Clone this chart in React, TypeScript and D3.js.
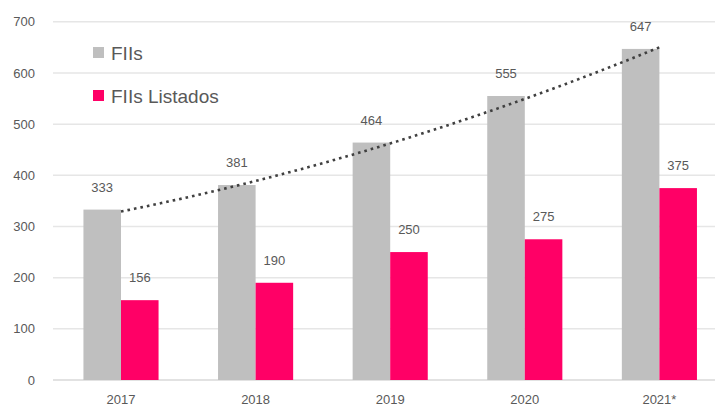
import React from "react";
import * as d3 from "d3";

const categories = ["2017", "2018", "2019", "2020", "2021*"];
const fiis = [333, 381, 464, 555, 647];
const fiisListados = [156, 190, 250, 275, 375];
const yTicks = [0, 100, 200, 300, 400, 500, 600, 700];
const seriesNames = ["FIIs", "FIIs Listados"];

const W = 715;
const H = 408;
const GREY = "#bfbfbf";
const PINK = "#ff0066";
const TEXT = "#595959";
const FONT = "'Liberation Sans', Arial, sans-serif";

function quadFit(ys: number[]) {
  // least squares fit y = a + b x + c x^2 over x = 0..n-1
  const n = ys.length;
  const xs = ys.map((_, i) => i);
  const S = (f: (x: number, y: number) => number) =>
    xs.reduce((s, x, i) => s + f(x, ys[i]), 0);
  const s0 = n, s1 = S((x) => x), s2 = S((x) => x * x), s3 = S((x) => x ** 3), s4 = S((x) => x ** 4);
  const t0 = S((x, y) => y), t1 = S((x, y) => x * y), t2 = S((x, y) => x * x * y);
  const M = [
    [s0, s1, s2, t0],
    [s1, s2, s3, t1],
    [s2, s3, s4, t2],
  ];
  for (let i = 0; i < 3; i++) {
    for (let k = i + 1; k < 3; k++) {
      const f = M[k][i] / M[i][i];
      for (let j = i; j < 4; j++) M[k][j] -= f * M[i][j];
    }
  }
  const r = [0, 0, 0];
  for (let i = 2; i >= 0; i--) {
    let s = M[i][3];
    for (let j = i + 1; j < 3; j++) s -= M[i][j] * r[j];
    r[i] = s / M[i][i];
  }
  return (x: number) => r[0] + r[1] * x + r[2] * x * x;
}

export default function App() {
  const y = d3.scaleLinear().domain([0, 700]).range([380, 21.8]);
  const x = d3.scaleBand<string>().domain(categories).range([53.7, 726.7]).padding(0);
  const barW = x.bandwidth() * 0.279;
  const cx = (c: string) => (x(c) as number) + x.bandwidth() / 2;

  const fit = quadFit(fiis);
  const idx = d3.scaleLinear().domain([0, categories.length - 1]).range([cx(categories[0]), cx(categories[categories.length - 1])]);
  const samples = d3.range(0, categories.length - 1 + 1e-9, 0.05);
  const trendPath = d3
    .line<number>()
    .x((t) => idx(t))
    .y((t) => y(fit(t)))(samples);

  return (
    <svg width={W} height={H} style={{ position: "absolute", left: 0, top: 0, background: "#fff" }}>
      {yTicks.map((t) => (
        <g key={t}>
          <line x1={53} x2={W} y1={y(t)} y2={y(t)} stroke={t === 0 ? "#d9d9d9" : "#e6e6e6"} strokeWidth={1.5} />
          <text x={35} y={y(t)} dy="0.35em" textAnchor="end" fontFamily={FONT} fontSize={13} fill={TEXT}>
            {t}
          </text>
        </g>
      ))}
      {categories.map((c, i) => (
        <g key={c}>
          <rect x={cx(c) - barW} y={y(fiis[i])} width={barW} height={y(0) - y(fiis[i])} fill={GREY} />
          <rect x={cx(c)} y={y(fiisListados[i])} width={barW} height={y(0) - y(fiisListados[i])} fill={PINK} />
          <text x={cx(c) - barW / 2} y={y(fiis[i]) - 22.5} dy="0.35em" textAnchor="middle" fontFamily={FONT} fontSize={13} fill={TEXT}>
            {fiis[i]}
          </text>
          <text x={cx(c) + barW / 2} y={y(fiisListados[i]) - 22.5} dy="0.35em" textAnchor="middle" fontFamily={FONT} fontSize={13} fill={TEXT}>
            {fiisListados[i]}
          </text>
          <text x={cx(c)} y={399.5} dy="0.35em" textAnchor="middle" fontFamily={FONT} fontSize={13} fill={TEXT}>
            {c}
          </text>
        </g>
      ))}
      <path d={trendPath || ""} fill="none" stroke="#404040" strokeWidth={2.6} strokeDasharray="2.6 4" />
      {seriesNames.map((s, i) => (
        <g key={s} transform={`translate(93, ${47 + i * 43})`}>
          <rect x={0} y={0} width={11} height={11} fill={i === 0 ? GREY : PINK} />
          <text x={18} y={6} dy="0.35em" fontFamily={FONT} fontSize={19} fill={TEXT}>
            {s}
          </text>
        </g>
      ))}
    </svg>
  );
}
